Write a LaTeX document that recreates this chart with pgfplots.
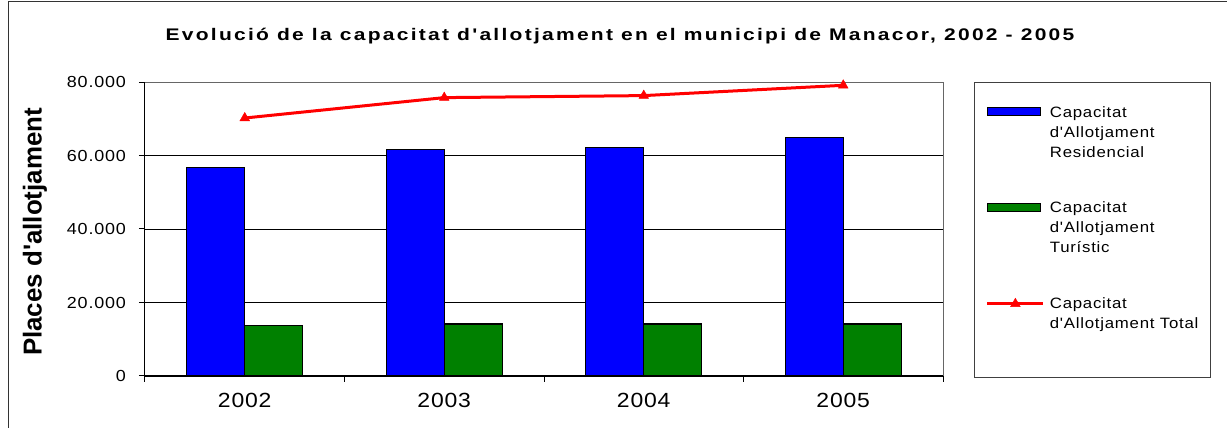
\documentclass[border=0pt]{standalone}
\usepackage{pgfplots}
\pgfplotsset{compat=1.18}
\usepackage{fontspec}
\setmainfont{Liberation Sans}
\newfontfamily\titlefont[FakeStretch=1.25,LetterSpace=13.5]{Liberation Sans}
\newfontfamily\legfont[FakeStretch=1.12,LetterSpace=5]{Liberation Sans}
\newfontfamily\ytickfont[FakeStretch=1.12,LetterSpace=5]{Liberation Sans}
\newfontfamily\xtickfont[FakeStretch=1.12,LetterSpace=4]{Liberation Sans}
\newfontfamily\ylabfont{Liberation Sans}
\definecolor{barblue}{RGB}{0,0,255}
\definecolor{bargreen}{RGB}{0,128,0}
\definecolor{linered}{RGB}{255,0,0}
\pgfplotsset{
  linelegend/.style={legend image code/.code={\draw[mark repeat=2, mark phase=2, ##1] plot coordinates {(0pt,5pt) (28pt,5pt) (56pt,5pt)};}},
}
\begin{document}
\begin{tikzpicture}[x=1pt,y=1pt]
\path[use as bounding box] (0,0) rectangle (1227,428);
\draw[black!80, line width=1pt] (8,-2) -- (8,426.5) -- (1229,426.5);
\node[anchor=base, inner sep=0pt, font=\titlefont\bfseries\fontsize{16.8}{20}\selectfont] at (620,387) {Evolució de la capacitat d'allotjament en el municipi de Manacor, 2002 - 2005};
\draw[black!75, line width=1pt] (974,50) rectangle (1210,345);
\begin{axis}[
  at={(145pt,52pt)}, anchor=south west,
  scale only axis, width=798pt, height=294pt,
  xmin=-0.5, xmax=3.5, ymin=0, ymax=80000,
  clip=false, scaled y ticks=false,
  axis lines=left, axis line style={-, black, line width=1pt},
  tick align=outside, major tick length=6pt,
  tick style={black, line width=1pt},
  xtick={-0.5,0.5,1.5,2.5,3.5}, xticklabels={},
  extra x ticks={0,1,2,3}, extra x tick labels={2002,2003,2004,2005},
  extra x tick style={major tick length=0pt, grid=none},
  xticklabel style={font=\xtickfont\fontsize{20.5}{24}\selectfont, inner sep=0pt, anchor=north},
  xticklabel shift=17pt,
  ytick={0,20000,40000,60000,80000},
  yticklabels={0,20.000,40.000,60.000,80.000},
  yticklabel style={font=\ytickfont\fontsize{16}{19}\selectfont, inner sep=0pt, anchor=east},
  yticklabel shift=13pt,
  ymajorgrids, major grid style={black, line width=0.9pt},
  ylabel={Places d'allotjament},
  ylabel style={at={(axis description cs:-0.1294,0.4898)}, anchor=base, inner sep=0pt, font=\ylabfont\bfseries\fontsize{25.9}{30}\selectfont},
  legend style={at={(1.0535,0.9252)}, anchor=north west, draw=none, fill=none, inner sep=0pt, row sep=79.5pt, column sep=3pt, cells={anchor=base west, inner sep=0pt}, font=\legfont\fontsize{15}{20}\selectfont},
]
\addplot[ybar, bar width=0.29, bar shift=-0.145, fill=barblue, draw=black, line width=1.2pt,
  legend image code/.code={\draw[fill=barblue, draw=black, line width=1.2pt] (0pt,1.5pt) rectangle (53pt,9.5pt);}]
  coordinates {(0,56700) (1,61600) (2,62100) (3,64850)};
\addlegendentry{\parbox[t]{170pt}{Capacitat\\d'Allotjament\\Residencial}}
\addplot[ybar, bar width=0.29, bar shift=0.145, fill=bargreen, draw=black, line width=1.2pt,
  legend image code/.code={\draw[fill=bargreen, draw=black, line width=1.2pt] (0pt,1.5pt) rectangle (53pt,9.5pt);}]
  coordinates {(0,13700) (1,14150) (2,14150) (3,14150)};
\addlegendentry{\parbox[t]{170pt}{Capacitat\\d'Allotjament\\Turístic}}
\addplot[linered, line width=3pt, mark=triangle*, mark size=5.5pt, mark options={solid, fill=linered, draw=linered, line width=0.5pt}, linelegend]
  coordinates {(0,70200) (1,75750) (2,76300) (3,79100)};
\addlegendentry{\parbox[t]{170pt}{Capacitat\\d'Allotjament Total}}
\draw[black!60, line width=1pt] (rel axis cs:0,1) -- (rel axis cs:1,1) -- (rel axis cs:1,0);
\end{axis}
\end{tikzpicture}
\end{document}
